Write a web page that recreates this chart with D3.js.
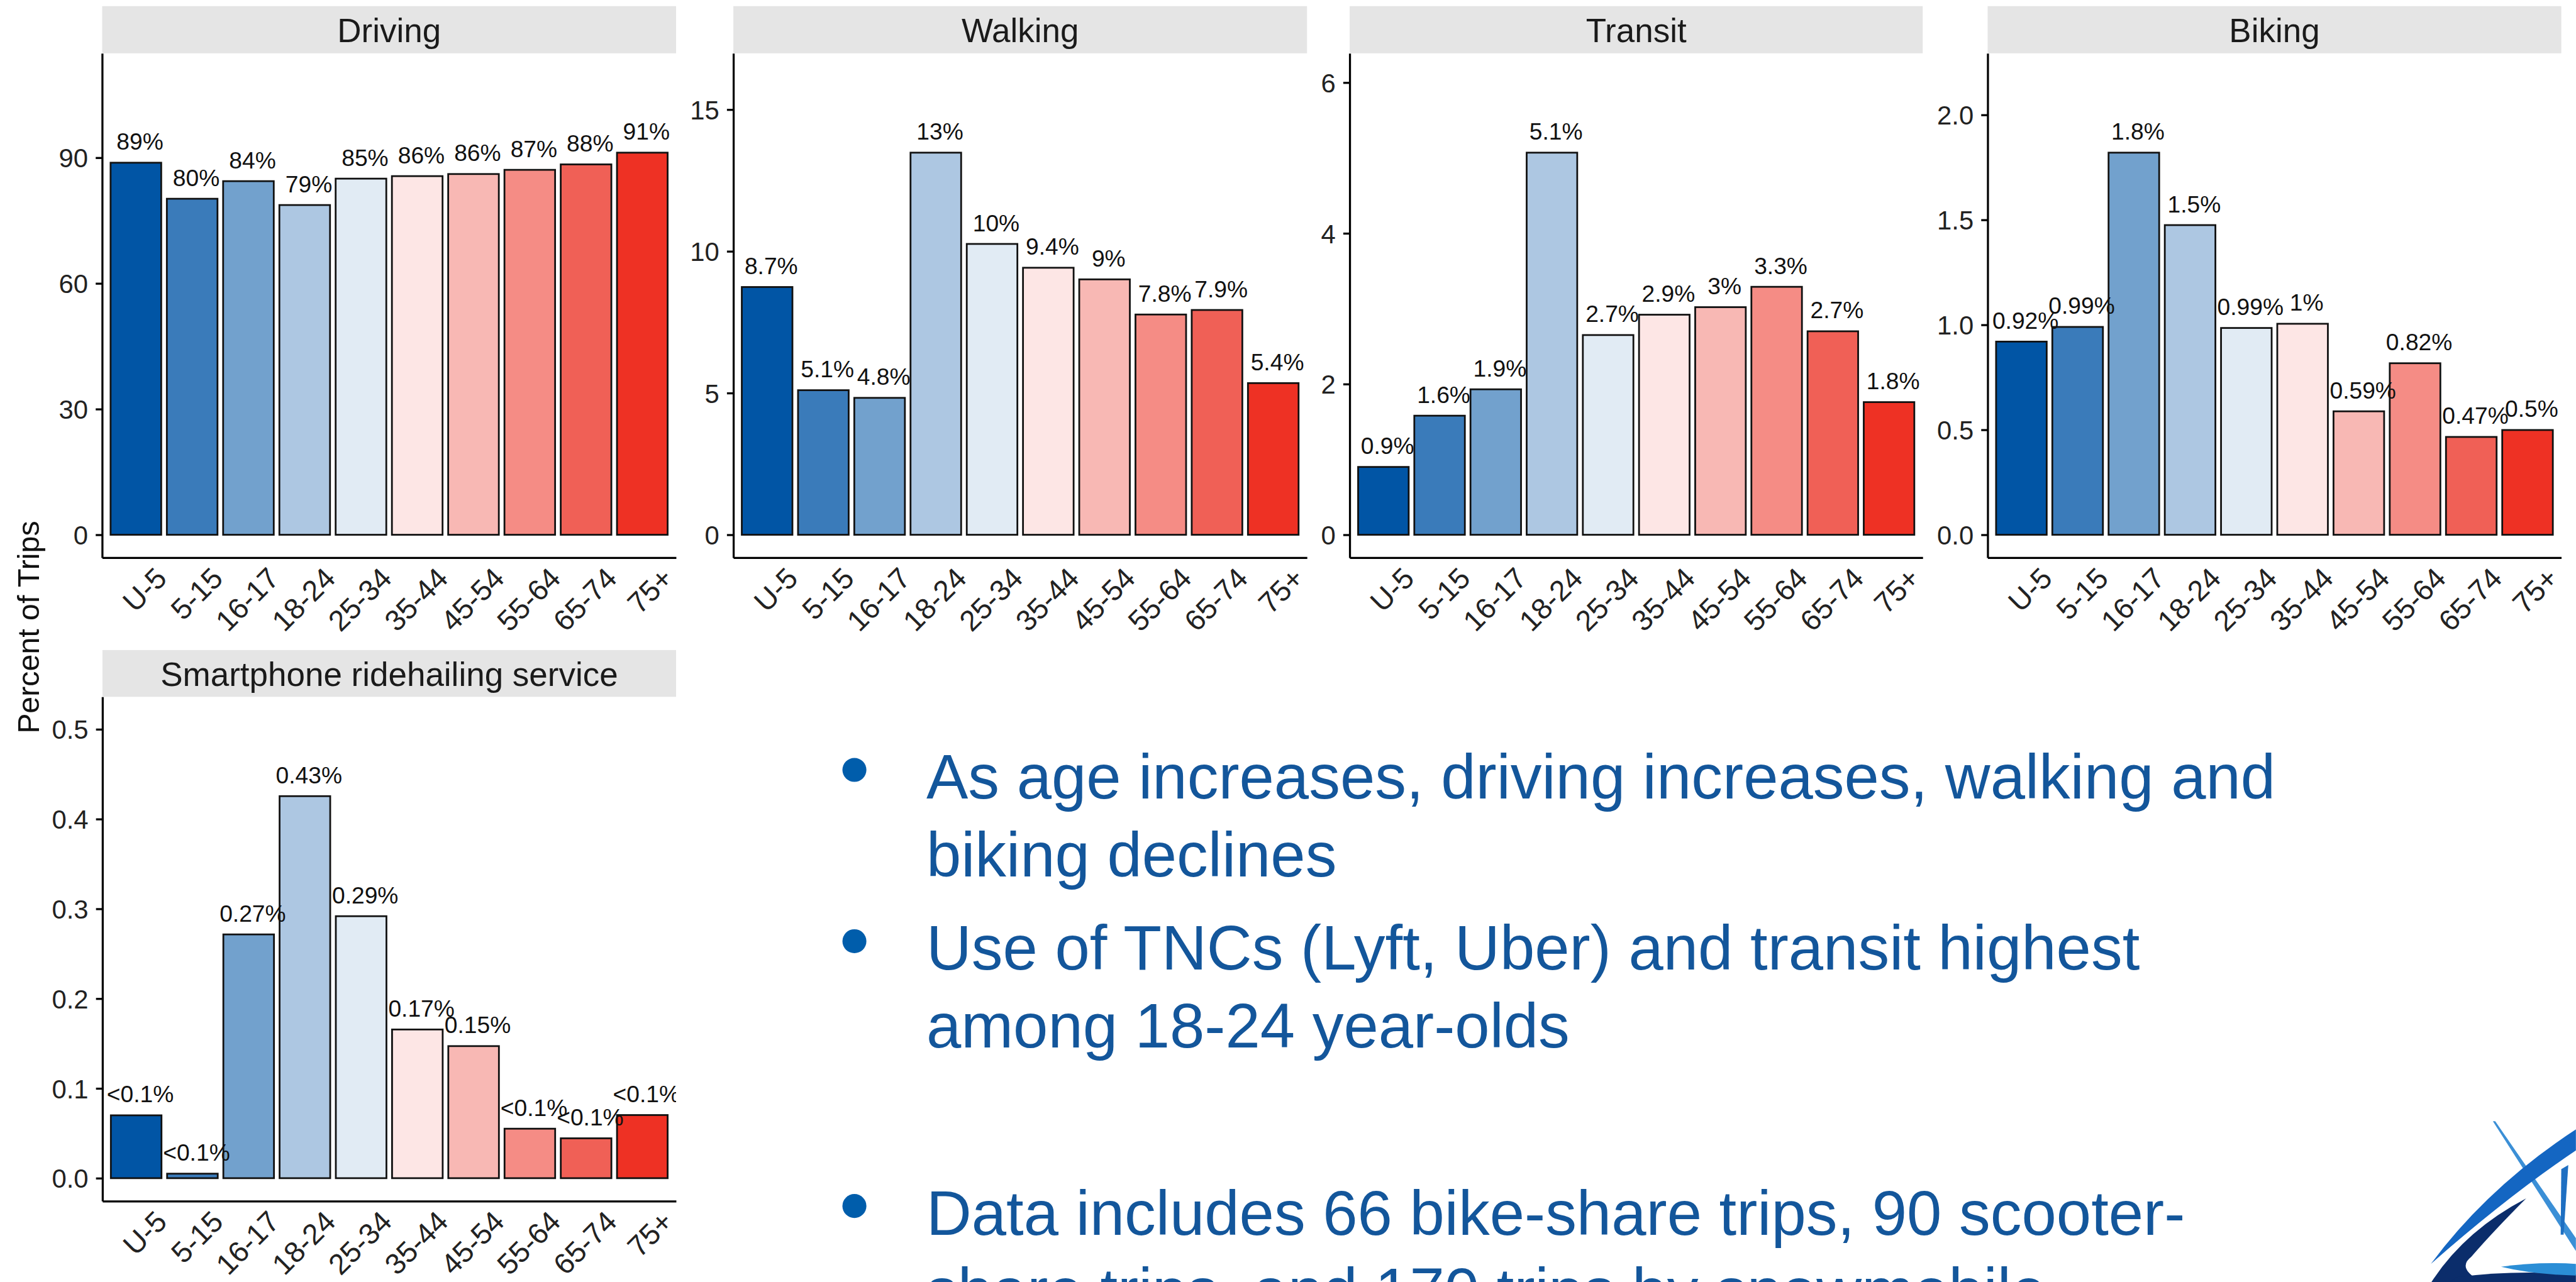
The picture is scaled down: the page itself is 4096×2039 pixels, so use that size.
<!DOCTYPE html>
<html>
<head>
<meta charset="utf-8">
<script src="https://cdn.jsdelivr.net/npm/d3@7"></script>
<style>
  html, body { margin: 0; padding: 0; background: #fff; overflow: hidden; }
  svg { display: block; font-family: "Liberation Sans", Arial, sans-serif; }
</style>
</head>
<body>
<div id="chart"></div>
<script>
// ---- data ----
var ages = ["U-5", "5-15", "16-17", "18-24", "25-34", "35-44", "45-54", "55-64", "65-74", "75+"];

var driving        = [88.8, 80.2, 84.4, 78.7, 85.0, 85.6, 86.1, 87.1, 88.4, 91.2];
var drivingLabels  = ["89%", "80%", "84%", "79%", "85%", "86%", "86%", "87%", "88%", "91%"];
var drivingTicks   = [0, 30, 60, 90];

var walking        = [8.74, 5.10, 4.83, 13.48, 10.26, 9.42, 9.01, 7.77, 7.93, 5.35];
var walkingLabels  = ["8.7%", "5.1%", "4.8%", "13%", "10%", "9.4%", "9%", "7.8%", "7.9%", "5.4%"];
var walkingTicks   = [0, 5, 10, 15];

var transit        = [0.90, 1.58, 1.93, 5.07, 2.65, 2.92, 3.02, 3.29, 2.70, 1.76];
var transitLabels  = ["0.9%", "1.6%", "1.9%", "5.1%", "2.7%", "2.9%", "3%", "3.3%", "2.7%", "1.8%"];
var transitTicks   = [0, 2, 4, 6];

var biking         = [0.92, 0.99, 1.82, 1.475, 0.985, 1.005, 0.588, 0.817, 0.466, 0.499];
var bikingLabels   = ["0.92%", "0.99%", "1.8%", "1.5%", "0.99%", "1%", "0.59%", "0.82%", "0.47%", "0.5%"];
var bikingTicks    = [0, 0.5, 1, 1.5, 2];

var ridehail       = [0.070, 0.005, 0.2715, 0.4255, 0.2918, 0.1656, 0.1471, 0.0551, 0.0444, 0.0703];
var ridehailLabels = ["<0.1%", "<0.1%", "0.27%", "0.43%", "0.29%", "0.17%", "0.15%", "<0.1%", "<0.1%", "<0.1%"];
var ridehailTicks  = [0, 0.1, 0.2, 0.3, 0.4, 0.5];

var palette = ["#0155a5", "#3a7bba", "#72a1cd", "#adc7e2", "#e1ebf4",
               "#fde6e5", "#f8b8b4", "#f58c85", "#f06056", "#ee3124"];

var bullets = [
  ["As age increases, driving increases, walking and", "biking declines"],
  ["Use of TNCs (Lyft, Uber) and transit highest", "among 18-24 year-olds"],
  null,
  ["Data includes 66 bike-share trips, 90 scooter-", "share trips, and 170 trips by snowmobile"]
];

// ---- layout, in reference pixels (viewBox scales to the window) ----
var W = 4405, H = 2193;
var rows = [
  { stripTop: 10.5, top: 91.2, bottom: 954 },
  { stripTop: 1112, top: 1192, bottom: 2054.6 }
];

var panels = [
  { title: "Driving",  values: driving,  labels: drivingLabels,  ticks: drivingTicks,  fmt: d3.format("d"),   x0: 174.5, x1: 1156, row: 0 },
  { title: "Walking",  values: walking,  labels: walkingLabels,  ticks: walkingTicks,  fmt: d3.format("d"),   x0: 1254,  x1: 2235, row: 0 },
  { title: "Transit",  values: transit,  labels: transitLabels,  ticks: transitTicks,  fmt: d3.format("d"),   x0: 2308,  x1: 3288, row: 0 },
  { title: "Biking",   values: biking,   labels: bikingLabels,   ticks: bikingTicks,   fmt: d3.format(".1f"), x0: 3399,  x1: 4380, row: 0 },
  { title: "Smartphone ridehailing service", values: ridehail, labels: ridehailLabels, ticks: ridehailTicks, fmt: d3.format(".1f"), x0: 175, x1: 1156, row: 1 }
];

var svg = d3.select("#chart").append("svg")
  .attr("width", 4096)
  .attr("height", 2039)
  .attr("viewBox", "0 0 " + W + " " + H);

var defs = svg.append("defs");

panels.forEach(function (p, i)
{
  var r = rows[p.row];
  var m = d3.max(p.values);

  var x = d3.scaleBand().domain(ages).range([p.x0, p.x1]).paddingInner(0.1).paddingOuter(0.15);
  var y = d3.scaleLinear().domain([-0.06 * m, 1.26 * m]).range([r.bottom, r.top]);

  var g = svg.append("g").attr("class", "panel");

  // strip
  g.append("rect")
    .attr("x", p.x0).attr("y", r.stripTop)
    .attr("width", p.x1 - p.x0).attr("height", r.top - r.stripTop)
    .attr("fill", "#e5e5e5");
  g.append("text")
    .attr("x", (p.x0 + p.x1) / 2)
    .attr("y", (r.stripTop + r.top) / 2 + 21)
    .attr("text-anchor", "middle")
    .attr("font-size", 57)
    .attr("fill", "#1a1a1a")
    .text(p.title);

  // clip marks to the panel
  defs.append("clipPath").attr("id", "clip" + i)
    .append("rect")
    .attr("x", p.x0).attr("y", r.top)
    .attr("width", p.x1 - p.x0).attr("height", r.bottom - r.top);

  var marks = g.append("g").attr("clip-path", "url(#clip" + i + ")");

  marks.selectAll("rect.bar")
    .data(p.values)
    .enter().append("rect")
    .attr("class", "bar")
    .attr("x", function (d, j) { return x(ages[j]); })
    .attr("width", x.bandwidth())
    .attr("y", function (d) { return y(d); })
    .attr("height", function (d) { return y(0) - y(d); })
    .attr("fill", function (d, j) { return palette[j]; })
    .attr("stroke", "#111")
    .attr("stroke-width", 3);

  marks.selectAll("text.lab")
    .data(p.values)
    .enter().append("text")
    .attr("class", "lab")
    .attr("x", function (d, j) { return x(ages[j]) + x.bandwidth() / 2 + 7; })
    .attr("y", function (d) { return y(d) - 22; })
    .attr("text-anchor", "middle")
    .attr("font-size", 40)
    .attr("fill", "#111")
    .text(function (d, j) { return p.labels[j]; });

  // y axis
  var ya = g.append("g")
    .attr("transform", "translate(" + p.x0 + ",0)")
    .call(d3.axisLeft(y).tickValues(p.ticks).tickFormat(p.fmt).tickSize(11).tickSizeOuter(0).tickPadding(13));
  ya.attr("font-size", null);
  ya.select(".domain").attr("stroke-width", 3.5);
  ya.selectAll(".tick line").attr("stroke-width", 3.5);
  ya.selectAll(".tick text")
    .style("font-size", "45px")
    .attr("font-family", "Liberation Sans, Arial, sans-serif")
    .attr("fill", "#222")
    .attr("dy", "0.36em");

  // x axis
  var xa = g.append("g")
    .attr("transform", "translate(0," + r.bottom + ")")
    .call(d3.axisBottom(x).tickSize(0).tickSizeOuter(0));
  xa.attr("font-size", null);
  xa.select(".domain").attr("stroke-width", 3.5);
  xa.selectAll(".tick text")
    .style("font-size", "50px")
    .attr("font-family", "Liberation Sans, Arial, sans-serif")
    .attr("fill", "#222")
    .attr("x", 0).attr("y", 0)
    .attr("dy", "0.72em")
    .attr("transform", "translate(30,13) rotate(-45)")
    .style("text-anchor", "end");
});

// y axis title
svg.append("text")
  .attr("transform", "translate(66,1073) rotate(-90)")
  .attr("text-anchor", "middle")
  .attr("font-size", 52)
  .attr("fill", "#111")
  .text("Percent of Trips");

// ---- bullet text ----
var textG = svg.append("g");
var baseline = 1366, lineH = 133, paraGap = 27;
bullets.forEach(function (b)
{
  if (b)
  {
    textG.append("circle")
      .attr("cx", 1461).attr("cy", baseline - 49).attr("r", 20.5)
      .attr("fill", "#005dab");
    b.forEach(function (line, k)
    {
      textG.append("text")
        .attr("x", 1584).attr("y", baseline + k * lineH)
        .attr("font-size", 107)
        .attr("fill", "#13569b")
        .text(line);
    });
    baseline += b.length * lineH + paraGap;
  }
  else
  {
    baseline += lineH + paraGap;
  }
});

// ---- logo fragment, bottom right ----
var logo = svg.append("g");
logo.append("path")
  .attr("d", "M4263,1918 L4267,1918 L4405,2118 L4405,2140 Z")
  .attr("fill", "#3b8fd6");
logo.append("path")
  .attr("d", "M4157,2162 Q4255,2030 4405,1932 L4405,1968 Q4290,2045 4157,2162 Z")
  .attr("fill", "#1466c2");
logo.append("path")
  .attr("d", "M4380,2000 L4392,1993 L4384,2112 L4379,2112 Z")
  .attr("fill", "#1e6fc2");
logo.append("path")
  .attr("d", "M4320,2050 Q4215,2105 4158,2193 L4245,2193 Q4200,2170 4226,2150 Q4265,2105 4320,2050 Z")
  .attr("fill", "#0b2d6b");
logo.append("path")
  .attr("d", "M4200,2185 Q4300,2172 4405,2180 L4405,2193 L4190,2193 Z")
  .attr("fill", "#0b2d6b");
logo.append("path")
  .attr("d", "M4277,2167 Q4340,2158 4405,2162 L4405,2182 Q4330,2180 4277,2167 Z")
  .attr("fill", "#2b8ed6");
</script>
</body>
</html>
